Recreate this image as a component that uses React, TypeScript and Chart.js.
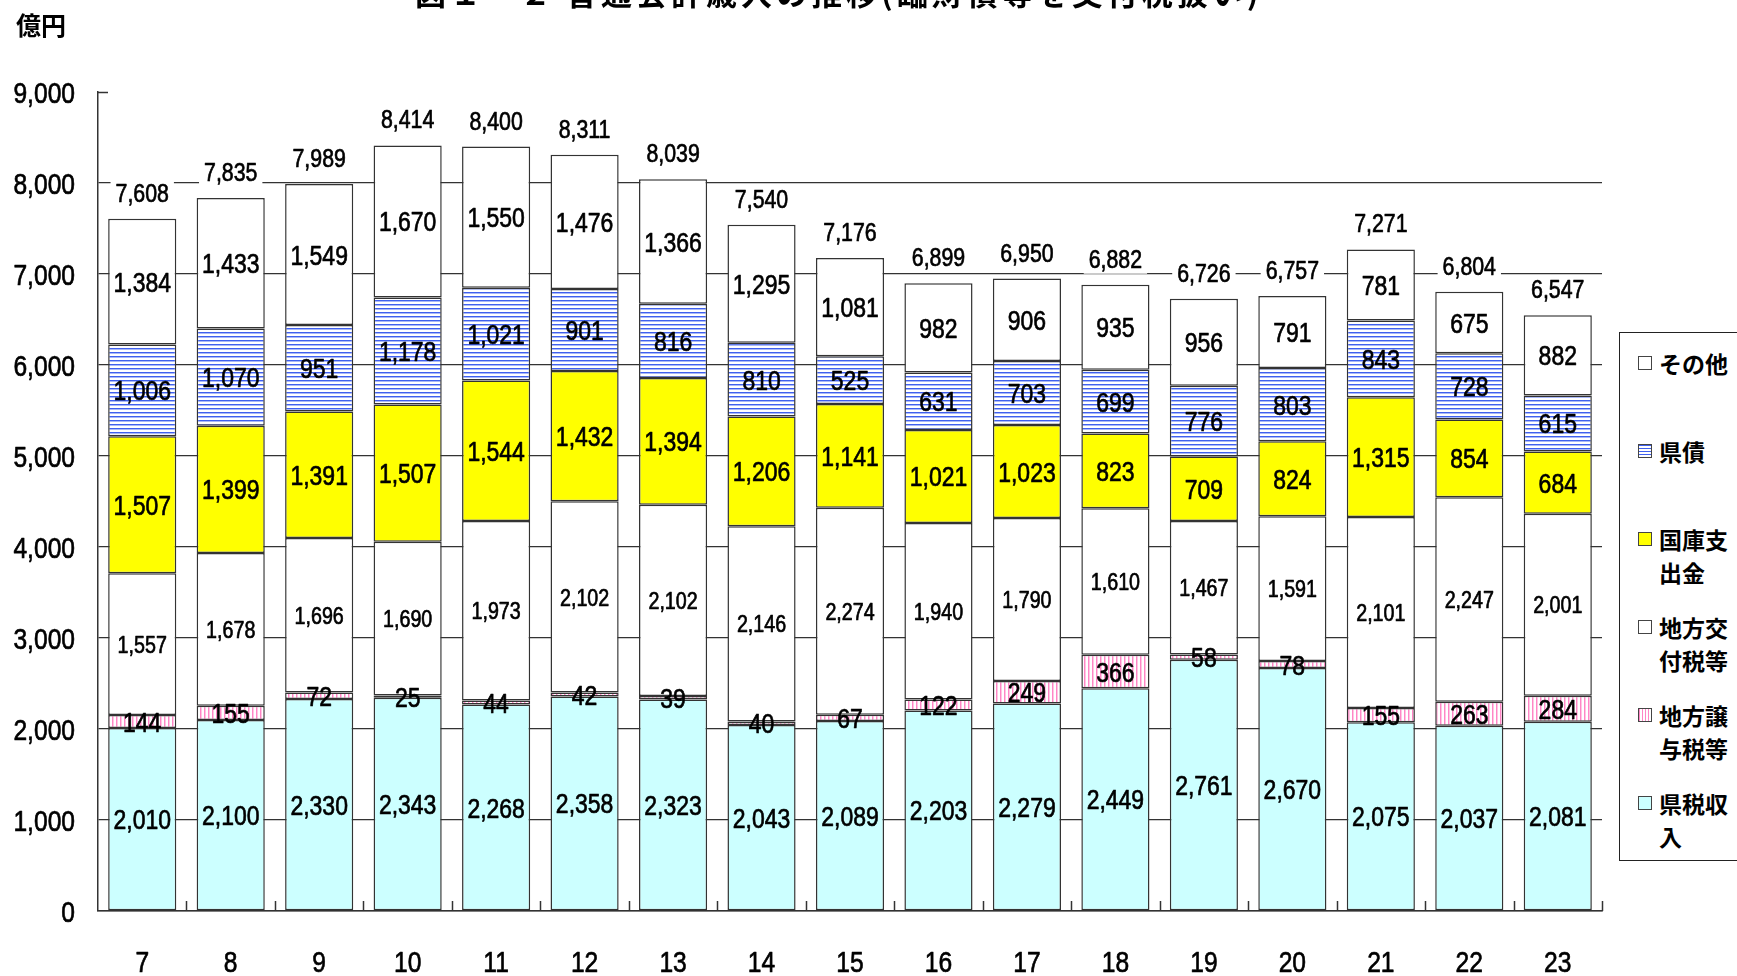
import React, { useEffect, useRef } from "react";
import { Chart, registerables } from "chart.js";

Chart.register(...registerables);

// ---- data ----
const categories = ["7", "8", "9", "10", "11", "12", "13", "14", "15", "16", "17", "18", "19", "20", "21", "22", "23"];
const kenzeiShunyu = [2010, 2100, 2330, 2343, 2268, 2358, 2323, 2043, 2089, 2203, 2279, 2449, 2761, 2670, 2075, 2037, 2081];
const chihoJoyozei = [144, 155, 72, 25, 44, 42, 39, 40, 67, 122, 249, 366, 58, 78, 155, 263, 284];
const chihoKofuzei = [1557, 1678, 1696, 1690, 1973, 2102, 2102, 2146, 2274, 1940, 1790, 1610, 1467, 1591, 2101, 2247, 2001];
const kokkoShishutsu = [1507, 1399, 1391, 1507, 1544, 1432, 1394, 1206, 1141, 1021, 1023, 823, 709, 824, 1315, 854, 684];
const kensai = [1006, 1070, 951, 1178, 1021, 901, 816, 810, 525, 631, 703, 699, 776, 803, 843, 728, 615];
const sonota = [1384, 1433, 1549, 1670, 1550, 1476, 1366, 1295, 1081, 982, 906, 935, 956, 791, 781, 675, 882];
const totals = [7608, 7835, 7989, 8414, 8400, 8311, 8039, 7540, 7176, 6899, 6950, 6882, 6726, 6757, 7271, 6804, 6547];
const seriesNames = ["県税収入", "地方譲与税等", "地方交付税等", "国庫支出金", "県債", "その他"];
const yTickValues = [0, 1000, 2000, 3000, 4000, 5000, 6000, 7000, 8000, 9000];
const titleText = "図１－２ 普通会計歳入の推移(臨財債等を交付税扱い)";
const unitText = "億円";

const NUM_FONT = '"Liberation Sans", Arial, sans-serif';
const JP_FONT = '"Noto Sans CJK JP", "Noto Sans CJK SC", sans-serif';
const SQUEEZE = 0.82;

const fmt = (v: number) => v.toLocaleString("en-US");

function makePattern(kind: "h" | "v"): CanvasPattern | string {
  const c = document.createElement("canvas");
  c.width = 4;
  c.height = 4;
  const x = c.getContext("2d");
  if (!x) return "#fff";
  x.fillStyle = "#ffffff";
  x.fillRect(0, 0, 4, 4);
  if (kind === "h") {
    x.fillStyle = "#3f60ee";
    x.fillRect(0, 0, 4, 1);
    x.fillStyle = "#a9b8f8";
    x.fillRect(0, 1, 4, 1);
  } else {
    x.fillStyle = "#ff86c6";
    x.fillRect(0, 0, 1, 4);
    x.fillStyle = "#ffc6e3";
    x.fillRect(1, 0, 1, 4);
  }
  return x.createPattern(c, "repeat") || "#fff";
}

function drawNum(
  ctx: CanvasRenderingContext2D,
  text: string,
  x: number,
  baseline: number,
  size: number,
  align: CanvasTextAlign
) {
  ctx.save();
  ctx.font = `${size}px ${NUM_FONT}`;
  ctx.textAlign = align;
  ctx.textBaseline = "alphabetic";
  ctx.fillStyle = "#000";
  ctx.strokeStyle = "#000";
  ctx.lineWidth = 0.7;
  ctx.lineJoin = "round";
  ctx.translate(x, baseline);
  ctx.scale(SQUEEZE, 1);
  ctx.fillText(text, 0, 0);
  ctx.strokeText(text, 0, 0);
  ctx.restore();
}

function numWidth(ctx: CanvasRenderingContext2D, text: string, size: number) {
  ctx.save();
  ctx.font = `${size}px ${NUM_FONT}`;
  const w = ctx.measureText(text).width * SQUEEZE;
  ctx.restore();
  return w;
}

const overlayPlugin = {
  id: "overlayLabels",
  afterDatasetsDraw(chart: any) {
    const ctx = chart.ctx as CanvasRenderingContext2D;
    const area = chart.chartArea;
    const yScale = chart.scales.y;
    const xScale = chart.scales.x;
    ctx.save();
    // category boundary ticks (pointing up)
    ctx.strokeStyle = "#333";
    ctx.lineWidth = 1.5;
    const n = categories.length;
    const cw = (area.right - area.left) / n;
    for (let k = 1; k <= n; k++) {
      const xx = Math.round(area.left + k * cw) + 0.5;
      ctx.beginPath();
      ctx.moveTo(xx, area.bottom);
      ctx.lineTo(xx, area.bottom - 10);
      ctx.stroke();
    }
    // inward tick at top of y axis
    const yTop = yScale.getPixelForValue(yTickValues[yTickValues.length - 1]);
    ctx.beginPath();
    ctx.moveTo(area.left, Math.round(yTop) + 0.5);
    ctx.lineTo(area.left + 10, Math.round(yTop) + 0.5);
    ctx.stroke();
    ctx.restore();

    // y tick labels
    yTickValues.forEach((v) => {
      const py = yScale.getPixelForValue(v);
      drawNum(ctx, fmt(v), 75, py + 11, 30, "right");
    });
    // x category labels
    categories.forEach((c, j) => {
      const px = xScale.getPixelForValue(j);
      drawNum(ctx, c, px, 972, 30, "center");
    });

    // segment labels
    chart.data.datasets.forEach((ds: any, i: number) => {
      const meta = chart.getDatasetMeta(i);
      const size = i === 2 ? 24 : 28;
      const cap = size * 0.716;
      meta.data.forEach((bar: any, j: number) => {
        const p = bar.getProps(["x", "y", "base"], true);
        const cy = (p.y + p.base) / 2;
        drawNum(ctx, fmt(ds.data[j]), p.x, cy + cap / 2, size, "center");
      });
    });

    // totals with white background
    const last = chart.getDatasetMeta(chart.data.datasets.length - 1);
    const tSize = 26;
    totals.forEach((t, j) => {
      const bar: any = last.data[j];
      const p = bar.getProps(["x", "y"], true);
      const base = p.y - 17;
      const w = numWidth(ctx, fmt(t), tSize);
      ctx.save();
      ctx.fillStyle = "#fff";
      ctx.fillRect(p.x - w / 2 - 5, base - 23, w + 10, 29);
      ctx.restore();
      drawNum(ctx, fmt(t), p.x, base, tSize, "center");
    });
  },
};

export default function App() {
  const ref = useRef<HTMLCanvasElement | null>(null);

  useEffect(() => {
    const canvas = ref.current;
    if (!canvas) return;
    const hPat = makePattern("h");
    const vPat = makePattern("v");
    const fills = ["#ccffff", vPat, "#ffffff", "#ffff00", hPat, "#ffffff"];
    const seriesData = [kenzeiShunyu, chihoJoyozei, chihoKofuzei, kokkoShishutsu, kensai, sonota];
    const chart = new Chart(canvas, {
      type: "bar",
      data: {
        labels: categories,
        datasets: seriesData.map((d, i) => ({
          label: seriesNames[i],
          data: d,
          backgroundColor: fills[i] as any,
          borderColor: "#333333",
          borderWidth: 1.5,
          borderSkipped: false,
          barPercentage: 1,
          categoryPercentage: 0.77,
        })),
      },
      options: {
        animation: false,
        responsive: false,
        maintainAspectRatio: false,
        layout: { padding: { top: 92, right: 135, bottom: 0, left: 0 } },
        plugins: {
          legend: { display: false },
          tooltip: { enabled: false },
          title: { display: false },
        },
        scales: {
          x: {
            stacked: true,
            grid: { display: false, drawTicks: false },
            border: { display: true, color: "#333", width: 1.5 },
            ticks: { display: false },
            afterFit: (s: any) => {
              s.height = 65;
            },
          },
          y: {
            stacked: true,
            min: yTickValues[0],
            max: yTickValues[yTickValues.length - 1],
            ticks: {
              display: false,
              stepSize: yTickValues[1] - yTickValues[0],
            },
            grid: {
              drawTicks: false,
              lineWidth: 1.3,
              color: (c: any) =>
                c.tick && c.tick.value === yTickValues[yTickValues.length - 1] ? "rgba(0,0,0,0)" : "#333333",
            },
            border: { display: true, color: "#333", width: 1.5 },
            afterFit: (s: any) => {
              s.width = 98;
            },
          },
        },
      },
      plugins: [overlayPlugin],
    });
    return () => chart.destroy();
  }, []);

  const legendOrder = [5, 4, 3, 2, 1, 0];
  const swatchBg = [
    "#ccffff",
    "repeating-linear-gradient(90deg, #ff86c6 0px, #ff86c6 1px, #fff 1px, #fff 3px)",
    "#ffffff",
    "#ffff00",
    "repeating-linear-gradient(180deg, #3f60ee 0px, #3f60ee 1px, #fff 1px, #fff 3px)",
    "#ffffff",
  ];

  return (
    <div
      style={{
        position: "fixed",
        left: 0,
        top: 0,
        width: 1737,
        height: 976,
        overflow: "hidden",
        background: "#fff",
      }}
    >
      <canvas
        ref={ref}
        width={1737}
        height={976}
        style={{ position: "absolute", left: 0, top: 0, width: 1737, height: 976 }}
      />
      <div
        style={{
          position: "absolute",
          left: 415,
          top: -24,
          fontFamily: JP_FONT,
          fontWeight: 700,
          fontSize: 31,
          lineHeight: "31px",
          letterSpacing: 4,
          whiteSpace: "nowrap",
          color: "#000",
        }}
      >
        {titleText}
      </div>
      <div
        style={{
          position: "absolute",
          left: 16,
          top: 9,
          fontFamily: JP_FONT,
          fontWeight: 700,
          fontSize: 25,
          lineHeight: "30px",
          color: "#000",
        }}
      >
        {unitText}
      </div>
      <div
        style={{
          position: "absolute",
          left: 1619,
          top: 332,
          width: 200,
          height: 529,
          border: "1.5px solid #222",
          boxSizing: "border-box",
          background: "#fff",
        }}
      />
      {legendOrder.map((si, k) => {
        const cy = 363 + k * 88;
        return (
          <React.Fragment key={si}>
            <div
              style={{
                position: "absolute",
                left: 1638,
                top: cy - 7,
                width: 14,
                height: 14,
                boxSizing: "border-box",
                border: "1.5px solid #444",
                background: swatchBg[si],
              }}
            />
            <div
              style={{
                position: "absolute",
                left: 1659,
                top: cy - 16,
                width: 74,
                fontFamily: JP_FONT,
                fontWeight: 700,
                fontSize: 23,
                lineHeight: "33px",
                color: "#000",
                wordBreak: "break-all",
              }}
            >
              {seriesNames[si]}
            </div>
          </React.Fragment>
        );
      })}
    </div>
  );
}
